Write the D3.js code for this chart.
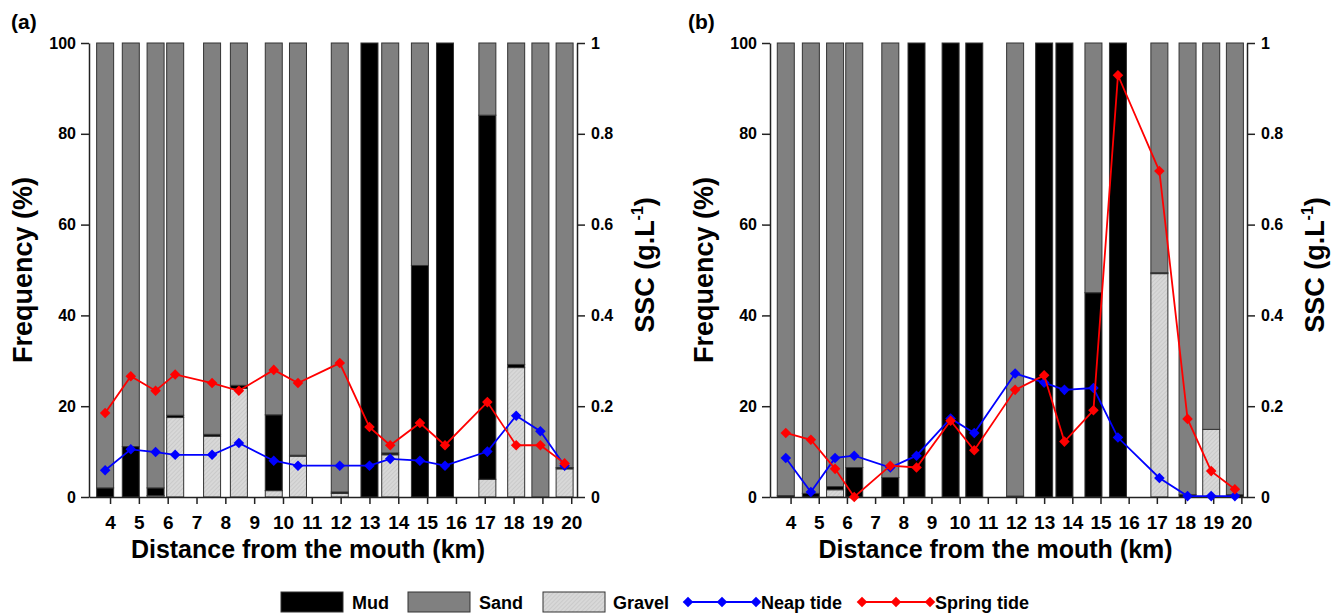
<!DOCTYPE html>
<html lang="en">
<head>
    <meta charset="utf-8">
    <title>Sediment frequency and SSC along the estuary</title>
    <style>
        body {
            margin: 0;
            background: #fff;
            font-family: "Liberation Sans", Arial, sans-serif;
        }
        svg text {
            font-weight: bold;
            fill: #000;
        }
    </style>
</head>
<body>
    <svg id="chart" width="1336" height="615"></svg>

    <script src="https://d3js.org/d3.v7.min.js"></script>
    <script>
        // Sample positions (km from the mouth), same for both panels
        const distances = [3.83, 4.72, 5.58, 6.26, 7.54, 8.47, 9.68, 10.52, 11.97, 13.0, 13.72, 14.75, 15.62, 17.09, 18.09, 18.93, 19.77];
        const xTicks = [4, 5, 6, 7, 8, 9, 10, 11, 12, 13, 14, 15, 16, 17, 18, 19, 20];
        const freqTicks = [0, 20, 40, 60, 80, 100];
        const sscTicks = [0, 0.2, 0.4, 0.6, 0.8, 1];

        // Panel (a) - % mud / % gravel (sand is the rest), SSC in g/L
        const mudA = [2.0, 11.1, 1.7, 0.5, 0.4, 0.7, 16.7, 0.2, 0.3, 100, 0.4, 51.0, 100, 80.2, 0.7, 0, 0.3];
        const gravelA = [0, 0, 0.3, 17.5, 13.4, 23.9, 1.4, 9.0, 0.8, 0, 9.3, 0, 0, 3.9, 28.5, 0, 6.2];
        const neapA = [0.059, 0.105, 0.099, 0.093, 0.093, 0.119, 0.080, 0.069, 0.069, 0.069, 0.084, 0.080, 0.069, 0.100, 0.179, 0.145, 0.069];
        const springA = [0.185, 0.266, 0.234, 0.270, 0.251, 0.234, 0.280, 0.251, 0.295, 0.154, 0.114, 0.163, 0.114, 0.209, 0.114, 0.114, 0.074];

        // Panel (b)
        const mudB = [0.3, 0.8, 0.7, 6.5, 4.3, 100, 100, 100, 0.2, 100, 100, 45.0, 100, 0.2, 0.5, 0, 0.5];
        const gravelB = [0, 0, 1.6, 0, 0, 0, 0, 0, 0, 0, 0, 0, 0, 49.2, 0, 14.9, 0];
        const neapB = [0.086, 0.011, 0.086, 0.091, 0.065, 0.091, 0.173, 0.141, 0.272, 0.252, 0.236, 0.240, 0.131, 0.042, 0.002, 0.002, 0.002];
        const springB = [0.141, 0.126, 0.062, 0.0, 0.069, 0.065, 0.168, 0.103, 0.236, 0.268, 0.122, 0.191, 0.929, 0.718, 0.172, 0.057, 0.017];

        const colors = { mud: "#000000", sand: "#808080", gravel: "url(#gravel)" };
        const neapColor = "#0000ff";
        const springColor = "#ff0000";

        const svg = d3.select("#chart");

        // hatched fill for gravel
        const pat = svg.append("defs").append("pattern")
            .attr("id", "gravel")
            .attr("width", 3).attr("height", 3)
            .attr("patternUnits", "userSpaceOnUse")
            .attr("patternTransform", "rotate(45)");
        pat.append("rect").attr("width", 3).attr("height", 3).attr("fill", "#d8d8d8");
        pat.append("line").attr("x1", 0).attr("y1", 0).attr("x2", 0).attr("y2", 3)
            .attr("stroke", "#bdbdbd").attr("stroke-width", 1);

        const diamond = d3.symbol().type(d3.symbolSquare).size(56);

        function drawPanel(opts) {
            const { left, right, label, labelX, titleShift, mud, gravel, neap, spring } = opts;
            const top = 43, bottom = 497;

            const x = d3.scaleLinear().domain([3.27, 20.2]).range([left, right]);
            const y = d3.scaleLinear().domain([0, 100]).range([bottom, top]);
            const y2 = d3.scaleLinear().domain([0, 1]).range([bottom, top]);

            const g = svg.append("g");

            // stacked bars: gravel at bottom, then mud, then sand
            const rows = distances.map((d, i) => ({
                dist: d,
                gravel: gravel[i],
                mud: mud[i],
                sand: Math.max(0, 100 - gravel[i] - mud[i])
            }));
            const stacked = d3.stack().keys(["gravel", "mud", "sand"])(rows);
            const barW = 17;

            g.append("g")
                .selectAll("g")
                .data(stacked)
                .join("g")
                .attr("fill", s => colors[s.key])
                .selectAll("rect")
                .data(s => s.filter(p => p[1] - p[0] > 0))
                .join("rect")
                .attr("x", p => x(p.data.dist) - barW / 2)
                .attr("width", barW)
                .attr("y", p => y(p[1]))
                .attr("height", p => y(p[0]) - y(p[1]))
                .attr("stroke", "#333")
                .attr("stroke-width", 1);

            // axes
            const axisStyle = sel => {
                sel.selectAll("path, line").attr("stroke", "#222").attr("stroke-width", 1.5);
                sel.selectAll("text").attr("font-family", "'Liberation Sans', Arial, sans-serif")
                    .attr("font-weight", "bold").attr("fill", "#000");
            };

            g.append("g")
                .attr("transform", `translate(0,${bottom})`)
                .call(d3.axisBottom(x).tickValues(xTicks).tickSize(7).tickSizeOuter(0).tickPadding(12))
                .call(axisStyle)
                .call(s => s.selectAll("text").attr("font-size", 19));

            g.append("g")
                .attr("transform", `translate(${left},0)`)
                .call(d3.axisLeft(y).tickValues(freqTicks).tickSize(8).tickSizeOuter(0).tickPadding(5))
                .call(axisStyle)
                .call(s => s.selectAll("text").attr("font-size", 16));

            g.append("g")
                .attr("transform", `translate(${right},0)`)
                .call(d3.axisRight(y2).tickValues(sscTicks).tickFormat(d3.format("~g")).tickSize(8).tickSizeOuter(0).tickPadding(6))
                .call(axisStyle)
                .call(s => s.selectAll("text").attr("font-size", 16));

            // SSC lines
            const series = [
                { values: neap, color: neapColor },
                { values: spring, color: springColor }
            ];
            const line = d3.line().x(d => x(d[0])).y(d => y2(d[1]));

            series.forEach(s => {
                const pts = distances.map((d, i) => [d, s.values[i]]);
                g.append("path")
                    .datum(pts)
                    .attr("fill", "none")
                    .attr("stroke", s.color)
                    .attr("stroke-width", 1.8)
                    .attr("d", line);
                g.append("g")
                    .selectAll("path")
                    .data(pts)
                    .join("path")
                    .attr("d", diamond)
                    .attr("fill", s.color)
                    .attr("transform", d => `translate(${x(d[0])},${y2(d[1])}) rotate(45)`);
            });

            // titles
            const midX = (left + right) / 2;
            g.append("text")
                .attr("x", midX + titleShift)
                .attr("y", 558)
                .attr("text-anchor", "middle")
                .attr("font-size", 25)
                .text("Distance from the mouth (km)");

            g.append("text")
                .attr("transform", `translate(${left - 57},${(top + bottom) / 2}) rotate(-90)`)
                .attr("text-anchor", "middle")
                .attr("font-size", 27)
                .text("Frequency (%)");

            const ssc = g.append("text")
                .attr("transform", `translate(${right + 77},${(top + bottom) / 2 - 5}) rotate(-90)`)
                .attr("text-anchor", "middle")
                .attr("font-size", 27);
            ssc.append("tspan").text("SSC (g.L");
            ssc.append("tspan").attr("font-size", 16).attr("dy", -11).text("-1");
            ssc.append("tspan").attr("dy", 11).text(")");

            svg.append("text")
                .attr("x", labelX)
                .attr("y", 29)
                .attr("font-size", 21)
                .text(label);
        }

        drawPanel({ left: 89, right: 577, label: "(a)", labelX: 11, titleShift: -25, mud: mudA, gravel: gravelA, neap: neapA, spring: springA });
        drawPanel({ left: 770, right: 1247, label: "(b)", labelX: 688, titleShift: -13, mud: mudB, gravel: gravelB, neap: neapB, spring: springB });

        // legend
        const legendY = 602;
        const boxes = [
            { name: "Mud", fill: colors.mud, x: 281, tx: 352 },
            { name: "Sand", fill: colors.sand, x: 408, tx: 479 },
            { name: "Gravel", fill: colors.gravel, x: 543, tx: 613 }
        ];
        const lg = svg.append("g");
        boxes.forEach(b => {
            lg.append("rect")
                .attr("x", b.x).attr("y", legendY - 10)
                .attr("width", 62).attr("height", 20)
                .attr("fill", b.fill).attr("stroke", "#333").attr("stroke-width", 1);
            lg.append("text")
                .attr("x", b.tx).attr("y", legendY + 7)
                .attr("font-size", 18)
                .text(b.name);
        });
        const lineItems = [
            { name: "Neap tide", color: neapColor, x: 688, tx: 761 },
            { name: "Spring tide", color: springColor, x: 862, tx: 935 }
        ];
        lineItems.forEach(l => {
            lg.append("line")
                .attr("x1", l.x).attr("x2", l.x + 68)
                .attr("y1", legendY).attr("y2", legendY)
                .attr("stroke", l.color).attr("stroke-width", 1.8);
            [0, 34, 68].forEach(dx => {
                lg.append("path")
                    .attr("d", diamond)
                    .attr("fill", l.color)
                    .attr("transform", `translate(${l.x + dx},${legendY}) rotate(45)`);
            });
            lg.append("text")
                .attr("x", l.tx).attr("y", legendY + 7)
                .attr("font-size", 18)
                .text(l.name);
        });
    </script>
</body>
</html>
